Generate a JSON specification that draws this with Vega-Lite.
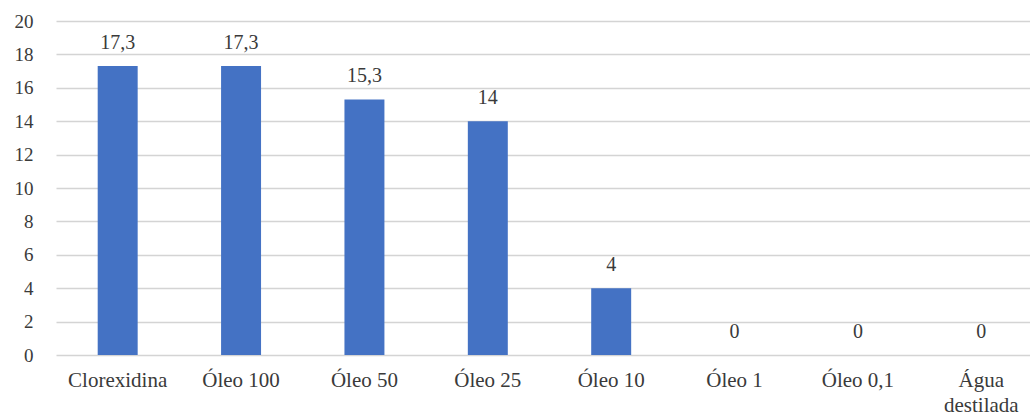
{
  "$schema": "https://vega.github.io/schema/vega-lite/v6.json",
  "autosize": "none",
  "width": 987,
  "height": 334,
  "padding": {"left": 56, "top": 21, "right": 0, "bottom": 63},
  "background": "white",
  "config": {
    "locale": {
      "number": {"decimal": ",", "thousands": ".", "grouping": [3], "currency": ["", " €"]}
    },
    "view": {"stroke": null},
    "font": "Liberation Serif"
  },
  "data": {
    "values": [
      {"grupo": "Clorexidina", "valor": 17.3},
      {"grupo": "Óleo 100", "valor": 17.3},
      {"grupo": "Óleo 50", "valor": 15.3},
      {"grupo": "Óleo 25", "valor": 14},
      {"grupo": "Óleo 10", "valor": 4},
      {"grupo": "Óleo 1", "valor": 0},
      {"grupo": "Óleo 0,1", "valor": 0},
      {"grupo": "Água destilada", "valor": 0}
    ]
  },
  "encoding": {
    "x": {
      "field": "grupo",
      "type": "nominal",
      "sort": null,
      "scale": {"paddingInner": 0.676, "paddingOuter": 0.338},
      "axis": {
        "title": null,
        "domain": false,
        "ticks": false,
        "labelAngle": 0,
        "labelFont": "Liberation Serif",
        "labelFontSize": 21,
        "labelColor": "#3a3a3a",
        "labelPadding": 14,
        "labelLineHeight": 25,
        "labelExpr": "datum.label == 'Água destilada' ? ['Água', 'destilada'] : datum.label"
      }
    },
    "y": {
      "field": "valor",
      "type": "quantitative",
      "scale": {"domain": [0, 20], "nice": false},
      "axis": {
        "title": null,
        "values": [0, 2, 4, 6, 8, 10, 12, 14, 16, 18, 20],
        "domain": false,
        "ticks": false,
        "grid": true,
        "gridColor": "#d4d4d4",
        "gridWidth": 1.5,
        "labelFont": "Liberation Serif",
        "labelFontSize": 19,
        "labelColor": "#3a3a3a",
        "labelPadding": 23
      }
    }
  },
  "layer": [
    {
      "mark": {"type": "bar", "color": "#4472C4"}
    },
    {
      "mark": {
        "type": "text",
        "baseline": "alphabetic",
        "dy": -17,
        "font": "Liberation Serif",
        "fontSize": 20,
        "color": "#3a3a3a"
      },
      "encoding": {
        "text": {"field": "valor", "type": "quantitative", "format": ".1~f"}
      }
    }
  ]
}
